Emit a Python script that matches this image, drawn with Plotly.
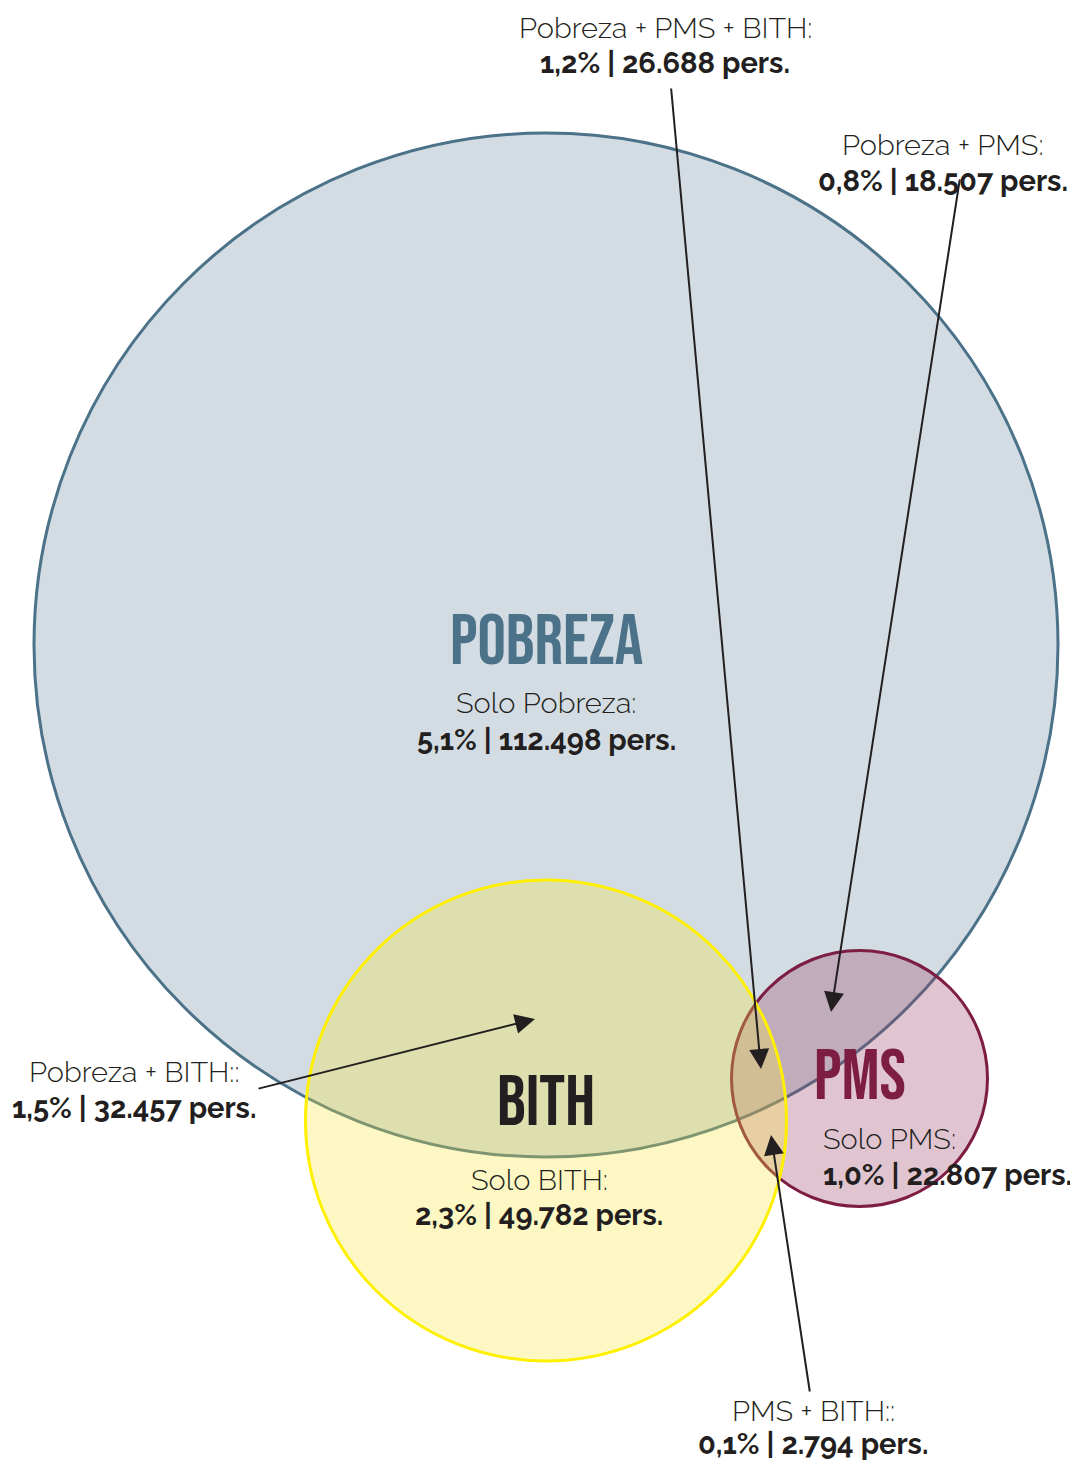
import plotly.graph_objects as go

# ---- data ----
set_names = ["POBREZA", "BITH", "PMS"]
set_colors = ["#4b7289", "#231f20", "#7d1d42"]

region_labels = ["Solo Pobreza:", "Solo BITH:", "Solo PMS:", "Pobreza + BITH::",
                 "Pobreza + PMS:", "PMS + BITH::", "Pobreza + PMS + BITH:"]
region_pct = ["5,1%", "2,3%", "1,0%", "1,5%", "0,8%", "0,1%", "1,2%"]
region_pers = ["112.498", "49.782", "22.807", "32.457", "18.507", "2.794", "26.688"]

# ---- layout geometry (page pixels) ----
PAGE_W, PAGE_H = 1078, 1468
OFF = 8  # default body margin of the html page
W, H = PAGE_W - OFF, PAGE_H - 2 * OFF

circles = {
    "POBREZA": dict(cx=546, cy=645, r=512, fill="#d3dce3", line="#4b7289", lw=3),
    "PMS": dict(cx=859.5, cy=1078.5, r=128, fill="rgba(152,62,98,0.30)", line="#7d1d42", lw=3),
    "BITH": dict(cx=546, cy=1120.5, r=240.5, fill="rgba(248,232,55,0.30)", line="#fff000", lw=3),
}
title_pos = {"POBREZA": (546, 642), "BITH": (546, 1103), "PMS": (860, 1077)}

# label positions: (x, y label line, y number line, xanchor)
label_pos = [(546, 703, 740, "center"), (539, 1180, 1215, "center"), (821, 1139, 1175, "left"),
             (134, 1072, 1108, "center"), (943, 145, 181, "center"), (813, 1411, 1444, "center"),
             (665, 28, 63, "center")]
# arrows: region index -> (tail x, tail y, tip x, tip y)
arrows = {3: (257, 1089, 535, 1019), 4: (960, 178, 831, 1012),
          5: (810, 1393, 771, 1135), 6: (671, 87, 761, 1069)}

fig = go.Figure()
fig.add_trace(go.Scatter(x=[OFF, PAGE_W], y=[OFF, PAGE_H - OFF], mode="markers",
                         marker=dict(opacity=0), hoverinfo="skip", showlegend=False))

shapes = []
for name in ["POBREZA", "PMS", "BITH"]:
    c = circles[name]
    shapes.append(dict(type="circle", xref="x", yref="y",
                       x0=c["cx"] - c["r"], x1=c["cx"] + c["r"],
                       y0=c["cy"] - c["r"], y1=c["cy"] + c["r"],
                       fillcolor=c["fill"], line=dict(color=c["line"], width=c["lw"]),
                       layer="below"))

title_font = "Bebas Neue, Oswald, Open Sans Condensed, sans-serif"
text_font = "Raleway, Lato, sans-serif"
annotations = []
for name, col in zip(set_names, set_colors):
    x, y = title_pos[name]
    annotations.append(dict(x=x, y=y, xref="x", yref="y", text=name,
                            showarrow=False, xanchor="center", yanchor="middle",
                            font=dict(family=title_font, size=71, color=col)))

for i, (lab, pct, pers) in enumerate(zip(region_labels, region_pct, region_pers)):
    x, y1, y2, xa = label_pos[i]
    annotations.append(dict(x=x, y=y1, xref="x", yref="y", text=lab,
                            showarrow=False, xanchor=xa, yanchor="middle",
                            font=dict(family=text_font, size=29, color="#231f20", weight=300)))
    annotations.append(dict(x=x, y=y2, xref="x", yref="y",
                            text="<b>%s | %s pers.</b>" % (pct, pers),
                            showarrow=False, xanchor=xa, yanchor="middle",
                            font=dict(family=text_font, size=29, color="#231f20")))

for i, (tx, ty, hx, hy) in arrows.items():
    annotations.append(dict(x=hx, y=hy, ax=tx, ay=ty, xref="x", yref="y", axref="x", ayref="y",
                            text="", showarrow=True, arrowhead=2, arrowsize=2, arrowwidth=2,
                            arrowcolor="#231f20", standoff=0, startstandoff=0))

fig.update_layout(
    width=W, height=H, margin=dict(l=0, r=0, t=0, b=0),
    paper_bgcolor="white", plot_bgcolor="white",
    xaxis=dict(range=[OFF, PAGE_W], visible=False, fixedrange=True),
    yaxis=dict(range=[PAGE_H - OFF, OFF], visible=False, fixedrange=True),
    shapes=shapes, annotations=annotations, showlegend=False,
)

fig.write_html("out.html")
